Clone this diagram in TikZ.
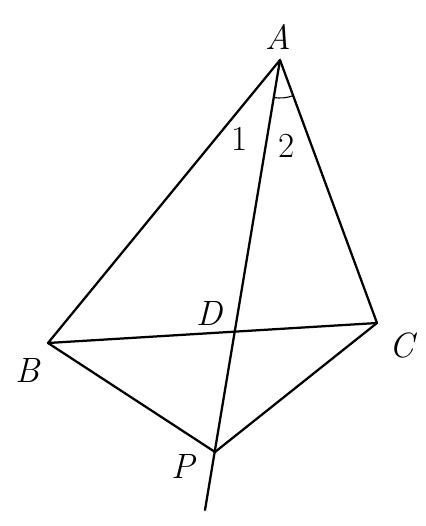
\documentclass[tikz,border=0pt]{standalone}
\usetikzlibrary{calc}
\begin{document}
\begin{tikzpicture}[
        x=0.025cm, y=0.025cm,
        edge/.style={line width=1.6pt, line cap=round, line join=round},
        vlabel/.style={font=\fontsize{25}{30}\selectfont\itshape, inner sep=0pt},
        alabel/.style={font=\fontsize{25}{30}\selectfont, inner sep=0pt}
    ]
        \useasboundingbox (0,0) rectangle (426,-526);

        \coordinate (A) at (280,-60);
        \coordinate (B) at (48,-343);
        \coordinate (C) at (377,-323);
        \coordinate (P) at (215,-452);
        \coordinate (E) at (205,-510);
        \coordinate (D) at (intersection of A--P and B--C);

        \draw[edge] (A) -- (B) -- (C) -- cycle;
        \draw[edge] (B) -- (P) -- (C);
        \draw[edge] (A) -- (E);
        \draw[line width=0.8pt] ($(A)!0.95cm!(P)$) arc[start angle=260.6, end angle=290.2, radius=0.95cm];

        \node (labA) [vlabel] at (278,-37) {A};
        \node (labB) [vlabel] at (28,-370) {B};
        \node (labC) [vlabel] at (402,-345) {C};
        \node (labD) [vlabel] at (209,-313) {D};
        \node (labP) [vlabel] at (183,-466) {P};
        \node (lab1) [alabel] at (240,-139) {1};
        \node (lab2) [alabel] at (287,-146) {2};

    \end{tikzpicture}
\end{document}
